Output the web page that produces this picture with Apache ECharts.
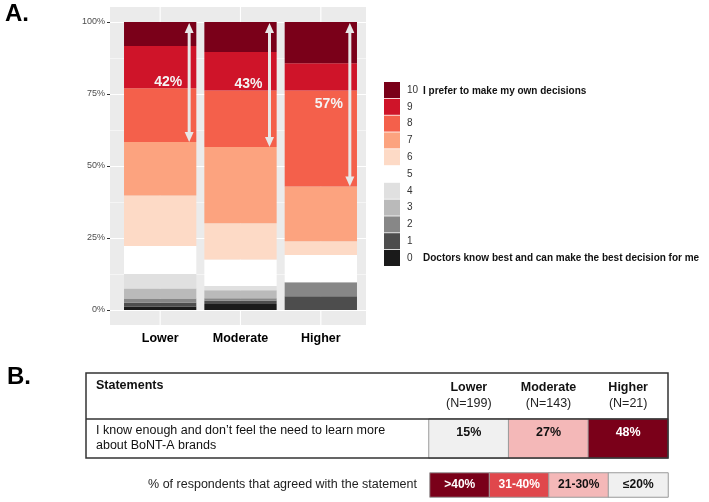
<!DOCTYPE html>
<html>
<head>
<meta charset="utf-8">
<script src="https://cdn.jsdelivr.net/npm/echarts@6/dist/echarts.min.js"></script>
<style>
  html, body { margin: 0; padding: 0; background: #fff; }
  #main { width: 709px; height: 502px; }
</style>
</head>
<body>
<div id="main"></div>
<script>
  // A. 决策偏好 0-10，按组堆叠（百分比）
  const categories = ['Lower', 'Moderate', 'Higher'];
  const levels = ['0', '1', '2', '3', '4', '5', '6', '7', '8', '9', '10'];
  const lowerPct = [1.2, 1.3, 1.5, 3.5, 5.0, 9.7, 17.6, 18.5, 18.7, 14.7, 8.3];
  const moderatePct = [2.1, 1.1, 0.85, 2.85, 1.4, 9.2, 12.6, 26.5, 19.6, 13.4, 10.4];
  const higherPct = [0, 4.8, 4.8, 0, 0, 9.5, 4.8, 19.0, 33.3, 9.5, 14.3];
  const levelColors = ['#1A1A1A', '#4D4D4D', '#878787', '#BABABA', '#E0E0E0', '#FFFFFF',
    '#FDDAC6', '#FCA37F', '#F4604B', '#CF1429', '#7A0019'];
  const topLabel = 'I prefer to make my own decisions';
  const bottomLabel = 'Doctors know best and can make the best decision for me';

  // B. 表格
  const groupN = [199, 143, 21];
  const statement = 'I know enough and don\u2019t feel the need to learn more\nabout BoNT-A brands';
  const agreedPct = [15, 27, 48];
  const binLabels = ['>40%', '31-40%', '21-30%', '\u226420%'];
  const binColors = ['#7A0019', '#E0474C', '#F4B8B8', '#F0F0F0'];
  const binText = ['#ffffff', '#ffffff', '#111111', '#111111'];
  const legendCaption = '% of respondents that agreed with the statement';

  const FONT = '"Liberation Sans", Arial, sans-serif';
  const groupVals = [lowerPct, moderatePct, higherPct];

  function binIndex(v) {
    return v > 40 ? 0 : v > 30 ? 1 : v > 20 ? 2 : 3;
  }

  // 箭头：从 100% 到 7/8 分界，标注 8+9+10 的比例
  const arrowData = groupVals.map((arr, k) => {
    let below = 0;
    for (let i = 0; i < 8; i++) below += arr[i];
    const top3 = arr[8] + arr[9] + arr[10];
    return [k, below, Math.round(top3)];
  });

  const barSeries = levels.map((lv, i) => ({
    name: lv,
    type: 'bar',
    stack: 'total',
    xAxisIndex: 0,
    yAxisIndex: 0,
    barWidth: '90%',
    z: 3,
    emphasis: { disabled: true },
    itemStyle: { color: levelColors[i] },
    data: groupVals.map(arr => arr[i])
  }));

  let myChart = echarts.init(document.getElementById('main'));
  let option = {
    animation: false,
    backgroundColor: '#fff',
    textStyle: { fontFamily: FONT },
    grid: [
      { left: 120, top: 22, width: 241, height: 288 },   // 柱子
      { left: 110, top: 22, width: 256, height: 288 },   // 面板网格线与 y 轴
      { left: 429, top: 419, width: 239, height: 39 },   // 表格数据
      { left: 430, top: 473, width: 238, height: 24 }    // 表格图例
    ],
    legend: {
      orient: 'vertical',
      left: 384,
      top: 82,
      padding: 0,
      itemWidth: 16,
      itemHeight: 16,
      itemGap: 0.8,
      icon: 'rect',
      selectedMode: false,
      data: levels.slice().reverse(),
      textStyle: { fontSize: 10, color: '#333', padding: [0, 0, 0, 2], fontFamily: FONT }
    },
    xAxis: [
      {
        gridIndex: 0, type: 'category', data: categories, offset: 15,
        axisLine: { show: false },
        axisTick: { alignWithLabel: true, length: 3, lineStyle: { color: '#333' } },
        axisLabel: { fontWeight: 'bold', fontSize: 12.5, color: '#000', margin: 7 },
        splitLine: { show: false }
      },
      { gridIndex: 1, type: 'value', min: 0, max: 1, show: false },
      {
        gridIndex: 2, type: 'category', data: categories, position: 'top',
        axisLine: { show: false }, axisTick: { show: false },
        axisLabel: {
          margin: 7,
          interval: 0,
          formatter: (v, i) => '{b|' + v + '}\n{n|(N=' + groupN[i] + ')}',
          rich: {
            b: { fontWeight: 'bold', fontSize: 12.5, color: '#111', lineHeight: 16, fontFamily: FONT },
            n: { fontSize: 12.5, color: '#222', lineHeight: 16, fontFamily: FONT }
          }
        }
      },
      { gridIndex: 3, type: 'category', data: binLabels, show: false }
    ],
    yAxis: [
      { gridIndex: 0, type: 'value', min: 0, max: 100, show: false },
      {
        gridIndex: 1, type: 'value', min: 0, max: 100, interval: 25,
        axisLine: { show: false },
        axisTick: { show: true, length: 3, lineStyle: { color: '#333' } },
        axisLabel: { formatter: '{value}%', color: '#4D4D4D', fontSize: 9, margin: 5 },
        splitLine: { lineStyle: { color: '#fff', width: 1.1 } },
        minorTick: { show: false, splitNumber: 2 },
        minorSplitLine: { show: true, lineStyle: { color: '#fff', width: 0.5 } }
      },
      {
        gridIndex: 2, type: 'category', data: [statement],
        axisLine: { show: false }, axisTick: { show: false },
        axisLabel: { align: 'left', margin: 333, fontSize: 12.5, color: '#111', lineHeight: 15, padding: [2, 0, 0, 0] }
      },
      {
        gridIndex: 3, type: 'category', data: [legendCaption],
        axisLine: { show: false }, axisTick: { show: false },
        axisLabel: { margin: 13, fontSize: 12.5, color: '#222', padding: [2, 0, 0, 0] }
      }
    ],
    series: [
      // 面板竖向网格线
      {
        type: 'custom',
        xAxisIndex: 0, yAxisIndex: 0, z: 1, silent: true,
        data: categories.map((c, k) => [k, 0]),
        renderItem: function (params, api) {
          const a = api.coord([api.value(0), 105.2]);
          const b = api.coord([api.value(0), -5.2]);
          return { type: 'line', shape: { x1: a[0], y1: a[1], x2: b[0], y2: b[1] },
            style: { stroke: '#fff', lineWidth: 1.1 } };
        }
      }
    ].concat(barSeries).concat([
      // 双向箭头和百分比
      {
        type: 'custom',
        xAxisIndex: 0, yAxisIndex: 0, z: 5, silent: true,
        data: arrowData,
        renderItem: function (params, api) {
          const i = api.value(0), base = api.value(1), pct = api.value(2);
          const top = api.coord([i, 100]);
          const bot = api.coord([i, base]);
          const mid = api.coord([i, base + (100 - base) / 2]);
          const x = top[0] + 29, y1 = top[1] + 1, y2 = bot[1];
          const c = '#E8E8E8';
          return {
            type: 'group',
            children: [
              { type: 'line', shape: { x1: x, y1: y1 + 8, x2: x, y2: y2 - 8 }, style: { stroke: c, lineWidth: 3 } },
              { type: 'polygon', shape: { points: [[x, y1], [x - 4.5, y1 + 10], [x + 4.5, y1 + 10]] }, style: { fill: c } },
              { type: 'polygon', shape: { points: [[x, y2], [x - 4.5, y2 - 10], [x + 4.5, y2 - 10]] }, style: { fill: c } },
              { type: 'text', x: x - 7, y: mid[1],
                style: { text: pct + '%', align: 'right', verticalAlign: 'middle', fill: '#F4F4F4',
                  fontSize: 14, fontWeight: 'bold', fontFamily: FONT } }
            ]
          };
        }
      },
      // 表格数据格
      {
        type: 'heatmap',
        xAxisIndex: 2, yAxisIndex: 2,
        data: agreedPct.map((v, k) => ({
          value: [k, 0, v],
          itemStyle: { color: binColors[binIndex(v)] },
          label: { color: binText[binIndex(v)] }
        })),
        itemStyle: { borderColor: '#9A9A9A', borderWidth: 1 },
        label: {
          show: true, position: 'insideTop', distance: 8,
          fontWeight: 'bold', fontSize: 12.5, fontFamily: FONT,
          formatter: p => p.value[2] + '%'
        },
        emphasis: { disabled: true }
      },
      // 表格图例格
      {
        type: 'heatmap',
        xAxisIndex: 3, yAxisIndex: 3,
        data: binLabels.map((b, k) => ({
          value: [k, 0, k],
          itemStyle: { color: binColors[k] },
          label: { color: binText[k] }
        })),
        itemStyle: { borderColor: '#9A9A9A', borderWidth: 1 },
        label: {
          show: true, fontWeight: 'bold', fontSize: 12, fontFamily: FONT,
          formatter: p => binLabels[p.value[0]]
        },
        emphasis: { disabled: true }
      }
    ]),
    graphic: [
      { type: 'rect', z: -100, silent: true, shape: { x: 110, y: 7, width: 256, height: 318 }, style: { fill: '#EBEBEB' } },
      { type: 'text', left: 5, top: 2, style: { text: 'A.', fontSize: 24, fontWeight: 'bold', fill: '#000', fontFamily: FONT } },
      { type: 'text', left: 7, top: 365, style: { text: 'B.', fontSize: 24, fontWeight: 'bold', fill: '#000', fontFamily: FONT } },
      { type: 'text', x: 423, y: 91, style: { text: topLabel, fontSize: 10, fontWeight: 'bold', fill: '#111', verticalAlign: 'middle', fontFamily: FONT } },
      { type: 'text', x: 423, y: 258, style: { text: bottomLabel, fontSize: 10, fontWeight: 'bold', fill: '#111', verticalAlign: 'middle', fontFamily: FONT } },
      { type: 'text', x: 96, y: 386, style: { text: 'Statements', fontSize: 12.5, fontWeight: 'bold', fill: '#111', verticalAlign: 'middle', fontFamily: FONT } },
      { type: 'rect', z: 100, silent: true, shape: { x: 86, y: 373, width: 582, height: 85 }, style: { fill: 'none', stroke: '#333', lineWidth: 1.5 } },
      { type: 'line', z: 100, silent: true, shape: { x1: 86, y1: 419, x2: 668, y2: 419 }, style: { stroke: '#333', lineWidth: 1.5 } }
    ]
  };
  myChart.setOption(option, true);
</script>
</body>
</html>
